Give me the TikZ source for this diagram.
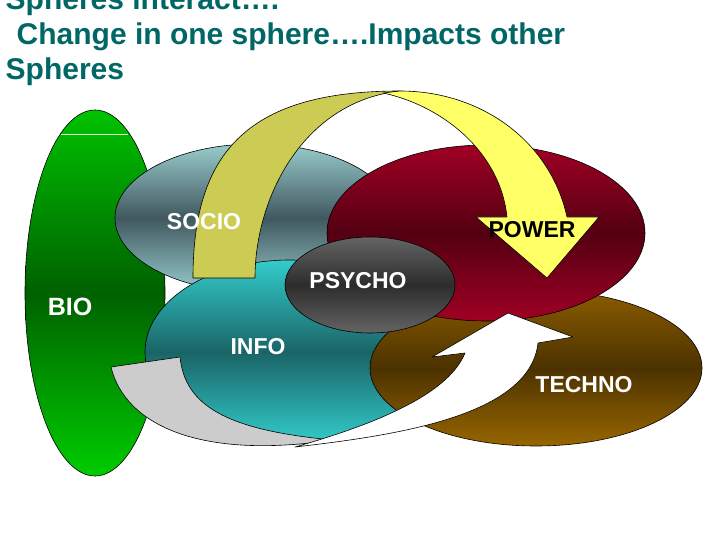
\documentclass[tikz,border=0pt]{standalone}
\usepackage{fontspec}
\setmainfont{Liberation Sans}
\usetikzlibrary{shapes.geometric}
\definecolor{titleteal}{RGB}{0,102,102}
\definecolor{bioTop}{RGB}{0,194,0}
\definecolor{bioMid}{RGB}{0,96,0}
\definecolor{bioBot}{RGB}{0,204,0}
\definecolor{socioOut}{RGB}{153,204,204}
\definecolor{socioMid}{RGB}{64,88,96}
\definecolor{powerTop}{RGB}{160,0,36}
\definecolor{powerMid}{RGB}{84,0,18}
\definecolor{infoOut}{RGB}{51,204,204}
\definecolor{infoMid}{RGB}{26,100,102}
\definecolor{technoTop}{RGB}{140,92,0}
\definecolor{technoMid}{RGB}{76,50,0}
\definecolor{technoBot}{RGB}{152,102,0}
\definecolor{psyOut}{RGB}{100,100,100}
\definecolor{psyMid}{RGB}{44,44,44}
\definecolor{yellowBack}{RGB}{204,204,85}
\definecolor{yellowFront}{RGB}{255,255,102}
\definecolor{greyBack}{RGB}{204,204,204}
\begin{document}
\begin{tikzpicture}[x=1pt,y=-1pt,
  sphere/.style={ellipse, draw=black, line width=0.6pt, inner sep=0pt},
  lbl/.style={font=\fontsize{23}{27}\selectfont\bfseries, inner sep=0pt, text=white},
  ttl/.style={font=\fontsize{30}{35}\selectfont\bfseries, inner sep=0pt, text=titleteal, anchor=base west},
  arrowpart/.style={draw=black, line width=0.6pt, line join=round}]
\useasboundingbox (0,0) rectangle (720,540);
\clip (0,0) rectangle (720,540);

% title
\node[ttl] (t1) at (5.5,10) {Spheres interact….};
\node[ttl] (t2) at (16.5,45) {Change in one sphere….Impacts other};
\node[ttl] (t3) at (5.5,80) {Spheres};

% spheres
\node[sphere, minimum width=140pt, minimum height=366pt,
  top color=bioTop, bottom color=bioBot, middle color=bioMid] (bio) at (95,293) {};
\draw[white!85!green, line width=0.8pt] (61,134) -- (128,134);
\node[sphere, minimum width=280pt, minimum height=148pt,
  top color=socioOut, bottom color=socioOut, middle color=socioMid] (socio) at (255,218) {};
\node[sphere, minimum width=290pt, minimum height=184pt,
  top color=infoOut, bottom color=infoOut, middle color=infoMid] (info) at (290,352) {};
\node[sphere, minimum width=332pt, minimum height=156pt,
  top color=technoTop, bottom color=technoBot, middle color=technoMid] (techno) at (536,368) {};
\node[sphere, minimum width=318pt, minimum height=176pt,
  top color=powerTop, bottom color=powerTop, middle color=powerMid] (power) at (486,233) {};
\node[sphere, minimum width=170pt, minimum height=96pt,
  top color=psyOut, bottom color=psyOut, middle color=psyMid] (psycho) at (370,285) {};

% yellow curved arrow (back part, then front part)
\filldraw[arrowpart, fill=yellowBack]
  (193,278) .. controls (193,150) and (250,91) .. (400,91)
  -- (387,93) .. controls (300,110) and (255,200) .. (255,278) -- cycle;
\filldraw[arrowpart, fill=yellowFront]
  (383,93) -- (400,91) .. controls (480,91) and (550,140) .. (567,217)
  -- (599,217) -- (547,278) -- (476,217) -- (507,217)
  .. controls (500,150) and (440,105) .. (383,93) -- cycle;

% grey / white curved arrow
\filldraw[arrowpart, fill=greyBack]
  (111,367) -- (180,357) .. controls (185,405) and (225,430) .. (333,440)
  .. controls (200,460) and (125,425) .. (111,367) -- cycle;
\filldraw[arrowpart, fill=white]
  (295,447) .. controls (400,435) and (530,415) .. (538,343)
  -- (573,337) -- (508,313) -- (432,357) -- (465,353)
  .. controls (450,390) and (390,420) .. (295,447) -- cycle;

% labels
\node[lbl] (lsocio) at (204,222) {SOCIO};
\node[lbl, text=black] (lpower) at (532,230) {POWER};
\node[lbl] (lpsycho) at (358,281) {PSYCHO};
\node[lbl] (linfo) at (258,347) {INFO};
\node[lbl] (ltechno) at (584,384.5) {TECHNO};
\node[lbl, font=\fontsize{25}{29}\selectfont\bfseries] (lbio) at (70,306.5) {BIO};
\end{tikzpicture}
\end{document}
